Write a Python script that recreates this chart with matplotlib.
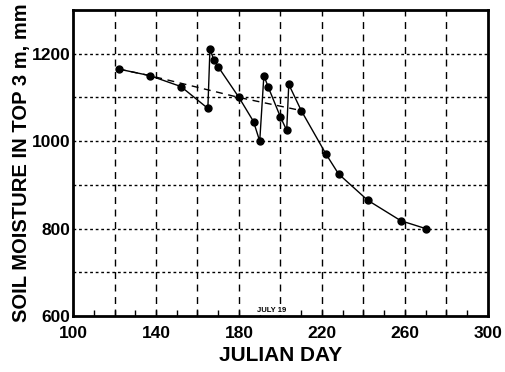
import matplotlib
matplotlib.use("Agg")
import matplotlib.pyplot as plt
from matplotlib.ticker import MultipleLocator

plt.rcParams['font.family'] = ['Liberation Sans Narrow', 'Liberation Sans', 'DejaVu Sans']

days = [122, 137, 152, 165, 166, 168, 170, 180, 187, 190, 192, 194, 200, 203, 204, 210, 222, 228, 242, 258, 270]
moisture = [1165, 1150, 1125, 1075, 1210, 1185, 1170, 1100, 1045, 1000, 1150, 1125, 1055, 1025, 1130, 1070, 970, 925, 865, 818, 800]

trend_days = [122, 137, 180, 210]
trend_vals = [1165, 1150, 1100, 1070]

xticks = [100, 140, 180, 220, 260, 300]
yticks = [600, 800, 1000, 1200]

fig = plt.figure(figsize=(5.06, 3.72), dpi=100)
ax = fig.add_axes([0.1443, 0.1505, 0.82, 0.8225])

ax.set_xlim(100, 300)
ax.set_ylim(600, 1300)

for x in range(120, 300, 20):
    ax.axvline(x, color='black', lw=1.0, ls=(0, (5, 4)), zorder=1)
for y in range(700, 1300, 100):
    ax.axhline(y, color='black', lw=1.0, ls=(0, (2, 2)), zorder=1)

ax.plot(trend_days, trend_vals, color='black', lw=1.0, ls=(0, (5, 4)), zorder=2)
ax.plot(days, moisture, color='black', lw=1.0, marker='o', markersize=5, zorder=3)

ax.set_xticks(xticks)
ax.set_yticks(yticks)
ax.xaxis.set_minor_locator(MultipleLocator(10))
ax.tick_params(axis='x', which='both', direction='in', length=4, width=1, top=False)
ax.tick_params(axis='x', labelsize=12.5, pad=7)
ax.tick_params(axis='y', which='both', length=0, labelsize=12.5, pad=2)
for lab in ax.get_xticklabels() + ax.get_yticklabels():
    lab.set_fontweight('bold')

for s in ax.spines.values():
    s.set_linewidth(2)

ax.set_xlabel('JULIAN DAY', fontsize=15, fontweight='bold', labelpad=4)
ax.set_ylabel('SOIL MOISTURE IN TOP 3 m, mm', fontsize=14.5, fontweight='bold', labelpad=0)

ax.text(195.5, 604, 'JULY 19', fontsize=5.5, fontweight='bold', ha='center', va='bottom',
        zorder=4, bbox=dict(facecolor='white', edgecolor='none', pad=0.5))

fig.savefig('out.png', dpi=100)
